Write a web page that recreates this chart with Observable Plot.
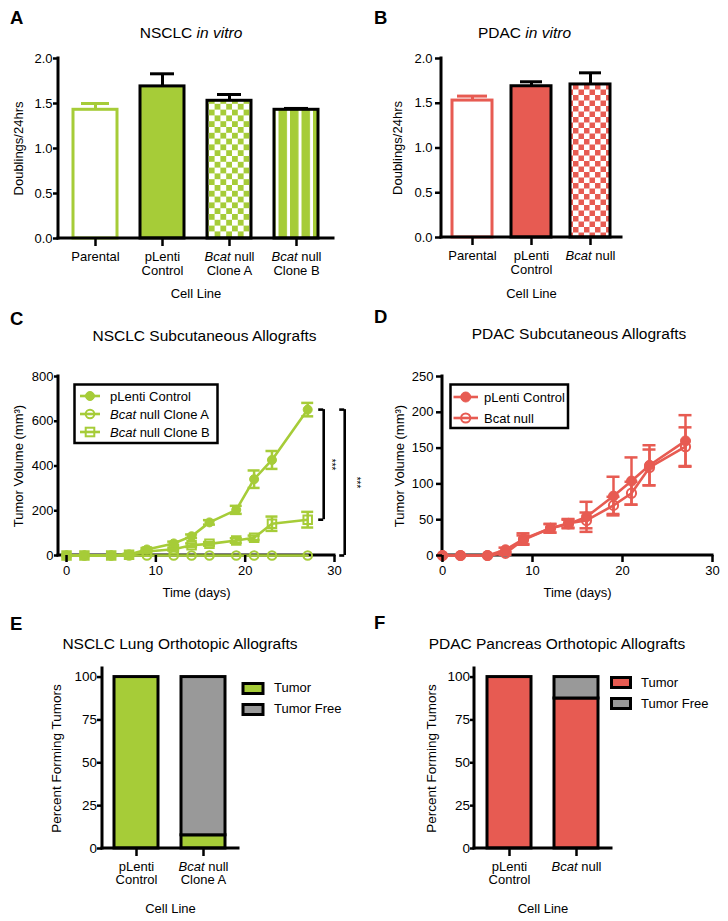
<!DOCTYPE html>
<html><head><meta charset="utf-8">
<script src="https://cdn.jsdelivr.net/npm/d3@7"></script>
<script src="https://cdn.jsdelivr.net/npm/@observablehq/plot@0.6"></script>
<style>
body{margin:0;background:#fff;}
#fig{position:relative;width:728px;height:921px;background:#fff;overflow:hidden;font-family:"Liberation Sans",Arial,Helvetica,sans-serif;}
</style></head><body><div id="fig"></div>
<script>
// ---------------- data ----------------
// A: NSCLC in vitro
const nsclcLines = ["Parental", "pLenti\nControl", "Bcat null\nClone A", "Bcat null\nClone B"];
const nsclcDoublings = [1.43, 1.69, 1.53, 1.43];
const nsclcDoublingsErr = [0.07, 0.14, 0.07, 0.015];
// B: PDAC in vitro
const pdacLines = ["Parental", "pLenti\nControl", "Bcat null"];
const pdacDoublings = [1.53, 1.69, 1.71];
const pdacDoublingsErr = [0.05, 0.05, 0.13];
// C / D: subcutaneous allografts
const days = [0, 2, 5, 7, 9, 12, 14, 16, 19, 21, 23, 27];
const nsclcSeries = ["pLenti Control", "Bcat null Clone A", "Bcat null Clone B"];
const nsclcControlVol = [0, 0, 0, 5, 27, 54, 86, 148, 204, 341, 427, 652];
const nsclcControlErr = [0, 0, 0, 3, 6, 8, 8, 10, 18, 39, 40, 30];
const nsclcCloneAVol = [0, 0, 0, 0, 0, 0, 0, 0, 0, 0, 0, 0];
const nsclcCloneAErr = [0, 0, 0, 0, 0, 0, 0, 0, 0, 0, 0, 0];
const nsclcCloneBVol = [0, 0, 0, 3, 18, 28, 46, 52, 67, 79, 142, 160];
const nsclcCloneBErr = [0, 0, 0, 2, 5, 6, 8, 8, 10, 10, 32, 35];
const pdacSeries = ["pLenti Control", "Bcat null"];
const pdacControlVol = [0, 0, 0, 8, 23, 38, 44, 54, 83, 104, 126, 160];
const pdacControlErr = [0, 0, 0, 3, 8, 6, 6, 21, 27, 33, 28, 36];
const pdacNullVol = [0, 0, 0, 3, 22, 38, 45, 49, 70, 87, 123, 152];
const pdacNullErr = [0, 0, 0, 2, 6, 6, 6, 11, 12, 16, 25, 27];
// E / F: orthotopic allografts
const tumorStatus = ["Tumor", "Tumor Free"];
const nsclcOrthoLines = ["pLenti\nControl", "Bcat null\nClone A"];
const nsclcTumorPct = [100, 7.7];
const nsclcTumorFreePct = [0, 92.3];
const pdacOrthoLines = ["pLenti\nControl", "Bcat null"];
const pdacTumorPct = [100, 87.5];
const pdacTumorFreePct = [0, 12.5];
// tick values
const doublingTicks = [0, 0.5, 1, 1.5, 2];
const nsclcVolTicks = [0, 200, 400, 600, 800];
const pdacVolTicks = [0, 50, 100, 150, 200, 250];
const dayTicks = [0, 10, 20, 30];
const pctTicks = [0, 25, 50, 75, 100];

// ---------------- styles ----------------
const GREEN = "#a6cc38", RED = "#e75b52", GRAY = "#999999";
const FONT = '"Liberation Sans", Arial, Helvetica, sans-serif';
const NS = "http://www.w3.org/2000/svg";
const fig = document.getElementById("fig");
const baseStyle = {background: "transparent", fontFamily: FONT, fontSize: "13px", color: "black", overflow: "visible"};

function place(svg, left, top) {
  svg.style.position = "absolute";
  svg.style.left = left + "px";
  svg.style.top = top + "px";
  svg.style.overflow = "visible";
  fig.appendChild(svg);
}
function addDefs(svg, markup) {
  const defs = document.createElementNS(NS, "defs");
  defs.innerHTML = markup;
  svg.insertBefore(defs, svg.firstChild);
}
function italicize(root, word) {
  const walker = document.createTreeWalker(root, NodeFilter.SHOW_TEXT);
  const nodes = [];
  while (walker.nextNode()) nodes.push(walker.currentNode);
  for (const n of nodes) {
    const p = n.parentNode;
    if (!p || p.tagName.toLowerCase() === "style") continue;
    const i = n.nodeValue.indexOf(word);
    if (i < 0) continue;
    const before = n.nodeValue.slice(0, i), after = n.nodeValue.slice(i + word.length);
    if (before) p.insertBefore(document.createTextNode(before), n);
    const t = document.createElementNS(NS, "tspan");
    t.setAttribute("font-style", "italic");
    t.textContent = word;
    p.insertBefore(t, n);
    n.nodeValue = after;
  }
}
// axis lines (left + bottom) drawn along the frame
function axisFrame(sw = 3) {
  return (index, scales, values, dims) => {
    const {width, height, marginTop, marginRight, marginBottom, marginLeft} = dims;
    const g = d3.create("svg:g").attr("stroke", "black").attr("stroke-width", sw).attr("stroke-linecap", "square");
    g.append("line").attr("x1", marginLeft).attr("x2", marginLeft).attr("y1", marginTop).attr("y2", height - marginBottom);
    g.append("line").attr("x1", marginLeft).attr("x2", width - marginRight).attr("y1", height - marginBottom).attr("y2", height - marginBottom);
    return g.node();
  };
}

// ---------------- A & B: doublings bar charts ----------------
function doublingPanel(lines, values, errs, color, fills, o) {
  const data = lines.map((line, i) => ({line, value: values[i], err: errs[i]}));
  const first = d => d.line === lines[0];
  const rest = d => d.line !== lines[0];
  const top = d => d.value + d.err;
  return Plot.plot({
    width: 364, height: o.height,
    marginLeft: o.ml, marginRight: o.mr, marginTop: o.mt, marginBottom: o.mb,
    style: baseStyle,
    x: {domain: lines, paddingInner: o.pi, paddingOuter: o.po},
    y: {domain: [0, 2]},
    color: {domain: lines, range: fills},
    marks: [
      Plot.ruleX(data, {filter: first, x: "line", y1: "value", y2: top, stroke: color, strokeWidth: 3}),
      Plot.ruleX(data, {filter: rest, x: "line", y1: "value", y2: top, stroke: "black", strokeWidth: 3}),
      Plot.tickY(data, {filter: first, x: "line", y: top, stroke: color, strokeWidth: 3, insetLeft: o.cap0, insetRight: o.cap0}),
      Plot.tickY(data, {filter: rest, x: "line", y: top, stroke: "black", strokeWidth: 3, insetLeft: o.cap, insetRight: o.cap}),
      Plot.barY(data, {filter: first, x: "line", y: "value", fill: "line", stroke: color, strokeWidth: 3}),
      Plot.barY(data, {filter: rest, x: "line", y: "value", fill: "line", stroke: "black", strokeWidth: 3}),
      Plot.axisY({ticks: doublingTicks, tickFormat: d3.format(".1f"), tickSize: o.yts, tickPadding: o.ytp, strokeWidth: 2.5,
        label: "Doublings/24hrs", labelAnchor: "center", labelOffset: o.ylo, labelArrow: "none"}),
      Plot.axisX({tickSize: 8, tickPadding: 5, strokeWidth: 2.5, lineHeight: 1.05,
        label: "Cell Line", labelAnchor: "center", labelOffset: o.xlo}),
      axisFrame(3)
    ]
  });
}

const svgA = doublingPanel(nsclcLines, nsclcDoublings, nsclcDoublingsErr, GREEN,
  ["white", GREEN, "url(#checkGreen)", "url(#stripeGreen)"],
  {height: 262, ml: 58, mr: 31, mt: 18, mb: 64, pi: 0.35, po: 0.206, cap0: 8, cap: 10, yts: 5, ytp: 1, ylo: 45, xlo: 59});
addDefs(svgA, `
<pattern id="checkGreen" patternUnits="userSpaceOnUse" width="11.6" height="11.6">
 <rect width="11.6" height="11.6" fill="white"/>
 <rect width="5.8" height="5.8" fill="${GREEN}"/>
 <rect x="5.8" y="5.8" width="5.8" height="5.8" fill="${GREEN}"/>
</pattern>
<pattern id="stripeGreen" patternUnits="userSpaceOnUse" x="2.5" width="11.5" height="10">
 <rect width="11.5" height="10" fill="white"/>
 <rect width="8.5" height="10" fill="${GREEN}"/>
</pattern>`);
italicize(svgA, "Bcat");
place(svgA, 0, 40);

const svgB = doublingPanel(pdacLines, pdacDoublings, pdacDoublingsErr, RED,
  ["white", RED, "url(#checkRed)"],
  {height: 262, ml: 77, mr: 107, mt: 18, mb: 65, pi: 0.32, po: 0.17, cap0: 5, cap: 9, yts: 6, ytp: 3, ylo: 49, xlo: 60});
addDefs(svgB, `
<pattern id="checkRed" patternUnits="userSpaceOnUse" width="11" height="11">
 <rect width="11" height="11" fill="white"/>
 <rect width="5.5" height="5.5" fill="${RED}"/>
 <rect x="5.5" y="5.5" width="5.5" height="5.5" fill="${RED}"/>
</pattern>`);
italicize(svgB, "Bcat");
place(svgB, 364, 40);

// ---------------- C & D: growth curves ----------------
function growthPanel(series, vols, errs, color, symbols, o, extra = []) {
  const data = series.flatMap((s, k) => days.map((day, i) => ({series: s, day, value: vols[k][i], err: errs[k][i]})));
  const withErr = data.filter(d => d.err > 0);
  const hi = d => d.value + d.err, lo = d => d.value - d.err;
  const dots = series.map((s, k) => Plot.dot(data, {filter: d => d.series === s, x: "day", y: "value",
    symbol: symbols[k].symbol, r: symbols[k].r, fill: symbols[k].filled ? color : "none", stroke: color,
    strokeWidth: symbols[k].filled ? 1 : 2}));
  return Plot.plot({
    width: 364, height: 300,
    marginLeft: o.ml, marginRight: o.mr, marginTop: o.mt, marginBottom: o.mb,
    style: baseStyle,
    x: {domain: o.xdomain},
    y: {domain: o.ydomain},
    marks: [
      axisFrame(3),
      Plot.line(data, {x: "day", y: "value", z: "series", stroke: color, strokeWidth: 2.6}),
      Plot.ruleX(withErr, {x: "day", y1: lo, y2: hi, stroke: color, strokeWidth: 2.5}),
      Plot.ruleY(withErr, {x1: "day", x2: "day", y: hi, stroke: color, strokeWidth: 2.5, insetLeft: -o.cap, insetRight: -o.cap}),
      Plot.ruleY(withErr, {x1: "day", x2: "day", y: lo, stroke: color, strokeWidth: 2.5, insetLeft: -o.cap, insetRight: -o.cap}),
      ...dots,
      ...extra,
      Plot.axisY({ticks: o.yticks, tickSize: o.yts, tickPadding: o.ytp, strokeWidth: 2.5,
        label: "Tumor Volume (mm³)", labelAnchor: "center", labelOffset: o.ylo, labelArrow: "none"}),
      Plot.axisX({ticks: dayTicks, tickSize: 7, tickPadding: 3, strokeWidth: 2.5,
        label: "Time (days)", labelAnchor: "center", labelOffset: o.xlo, labelArrow: "none"})
    ]
  });
}

// significance brackets (C): from the last time point, offset in pixels
const lastI = days.length - 1;
const lastDay = days[lastI];
const brackets = [
  {top: nsclcControlVol[lastI], bottom: nsclcCloneBVol[lastI], off: 16, toff: 23},
  {top: nsclcControlVol[lastI], bottom: nsclcCloneAVol[lastI], off: 37, toff: 48}
];
const bracketMarks = brackets.flatMap(b => [
  Plot.ruleX([b], {x: () => lastDay, y1: "bottom", y2: "top", dx: b.off, stroke: "black", strokeWidth: 2.6}),
  Plot.ruleY([b], {x1: () => lastDay, x2: () => lastDay, y: "top", insetLeft: b.off - 5, insetRight: -b.off, stroke: "black", strokeWidth: 2.6}),
  Plot.ruleY([b], {x1: () => lastDay, x2: () => lastDay, y: "bottom", insetLeft: b.off - 5, insetRight: -b.off, stroke: "black", strokeWidth: 2.6}),
  Plot.text([b], {x: () => lastDay, y: d => (d.top + d.bottom) / 2, text: () => "***", rotate: 90, dx: b.toff, fontSize: 10})
]);

const svgC = growthPanel(nsclcSeries, [nsclcControlVol, nsclcCloneAVol, nsclcCloneBVol],
  [nsclcControlErr, nsclcCloneAErr, nsclcCloneBErr], GREEN,
  [{symbol: "circle", r: 4.5, filled: true}, {symbol: "circle", r: 4.3, filled: false}, {symbol: "square", r: 4.8, filled: false}],
  {ml: 58, mr: 30, mt: 74, mb: 47, xdomain: [-0.9, 30], ydomain: [0, 800], yticks: nsclcVolTicks, yts: 4, ytp: 1, ylo: 45, xlo: 41, cap: 6},
  bracketMarks);
place(svgC, 0, 302);

const svgD = growthPanel(pdacSeries, [pdacControlVol, pdacNullVol], [pdacControlErr, pdacNullErr], RED,
  [{symbol: "circle", r: 5, filled: true}, {symbol: "circle", r: 4.6, filled: false}],
  {ml: 78, mr: 16, mt: 74, mb: 47, xdomain: [0, 30], ydomain: [0, 250], yticks: pdacVolTicks, yts: 6, ytp: 3, ylo: 48, xlo: 41, cap: 6.5});
place(svgD, 364, 302);

// ---------------- E & F: orthotopic stacked bars ----------------
function orthoPanel(lines, tumor, free, color, o) {
  const data = tumorStatus.flatMap((s, k) => lines.map((line, i) => ({line, status: s, pct: [tumor, free][k][i]})));
  return Plot.plot({
    width: 364, height: 266,
    marginLeft: o.ml, marginRight: o.mr, marginTop: 13, marginBottom: 73,
    style: baseStyle,
    x: {domain: lines, paddingInner: o.pi, paddingOuter: o.po},
    y: {domain: [0, 105]},
    color: {domain: tumorStatus, range: [color, GRAY]},
    marks: [
      Plot.barY(data, {x: "line", y: "pct", fill: "status", stroke: "black", strokeWidth: 3}),
      Plot.axisY({ticks: pctTicks, tickSize: o.yts, tickPadding: 0.5, strokeWidth: 2.5, fontSize: 13.5,
        label: "Percent Forming Tumors", labelAnchor: "center", labelOffset: o.ylo, labelArrow: "none"}),
      Plot.axisX({tickSize: 8, tickPadding: 4.5, strokeWidth: 2.5, lineHeight: 1.05,
        label: "Cell Line", labelAnchor: "center", labelOffset: 64}),
      axisFrame(3)
    ]
  });
}
const svgE = orthoPanel(nsclcOrthoLines, nsclcTumorPct, nsclcTumorFreePct, GREEN,
  {ml: 102, mr: 126, pi: 0.34, po: 0.177, yts: 5, ylo: 51});
italicize(svgE, "Bcat");
place(svgE, 0, 655);
const svgF = orthoPanel(pdacOrthoLines, pdacTumorPct, pdacTumorFreePct, RED,
  {ml: 110, mr: 117, pi: 0.346, po: 0.19, yts: 4, ylo: 48});
italicize(svgF, "Bcat");
place(svgF, 364, 655);

// ---------------- overlay: panel letters, titles, legends ----------------
const ov = d3.select(fig).append("svg").attr("width", 728).attr("height", 921)
  .style("position", "absolute").style("left", "0px").style("top", "0px").style("pointer-events", "none")
  .attr("font-family", FONT);

[["A", 10, 24], ["B", 374, 24], ["C", 10, 325], ["D", 374, 323], ["E", 10, 630], ["F", 374, 629]]
  .forEach(([t, x, y]) => ov.append("text").attr("x", x).attr("y", y).attr("font-size", 18.5).attr("font-weight", "bold").text(t));

function title(x, y, parts) {
  const t = ov.append("text").attr("x", x).attr("y", y).attr("font-size", 15.5).attr("text-anchor", "middle");
  parts.forEach(([s, it]) => t.append("tspan").attr("font-style", it ? "italic" : null).text(s));
}
title(191, 38, [["NSCLC ", false], ["in vitro", true]]);
title(524.5, 38, [["PDAC ", false], ["in vitro", true]]);
title(204.5, 340.5, [["NSCLC Subcutaneous Allografts", false]]);
title(579, 339, [["PDAC Subcutaneous Allografts", false]]);
title(180, 648.5, [["NSCLC Lung Orthotopic Allografts", false]]);
title(557, 648.5, [["PDAC Pancreas Orthotopic Allografts", false]]);

// line-chart legends
function lineLegend(box, entries, color, lx1, lx2, mx, tx, y0, dy) {
  ov.append("rect").attr("x", box[0]).attr("y", box[1]).attr("width", box[2]).attr("height", box[3])
    .attr("fill", "white").attr("stroke", "black").attr("stroke-width", 2.5);
  entries.forEach((e, i) => {
    const y = y0 + i * dy;
    ov.append("line").attr("x1", lx1).attr("x2", lx2).attr("y1", y).attr("y2", y).attr("stroke", color).attr("stroke-width", 2.6);
    if (e.symbol === "square") {
      ov.append("rect").attr("x", mx - 4.3).attr("y", y - 4.3).attr("width", 8.6).attr("height", 8.6)
        .attr("fill", "none").attr("stroke", color).attr("stroke-width", 2);
    } else {
      ov.append("circle").attr("cx", mx).attr("cy", y).attr("r", e.r)
        .attr("fill", e.filled ? color : "none").attr("stroke", color).attr("stroke-width", e.filled ? 1 : 2);
    }
    const t = ov.append("text").attr("x", tx).attr("y", y + 4.7).attr("font-size", 13);
    e.parts.forEach(([s, it]) => t.append("tspan").attr("font-style", it ? "italic" : null).text(s));
  });
}
lineLegend([74.5, 384.5, 143, 58.5], [
  {symbol: "circle", r: 4.5, filled: true, parts: [["pLenti Control", false]]},
  {symbol: "circle", r: 4.3, filled: false, parts: [["Bcat", true], [" null Clone A", false]]},
  {symbol: "square", parts: [["Bcat", true], [" null Clone B", false]]}
], GREEN, 80, 100, 90, 110, 396, 18);
lineLegend([450.5, 384.5, 117.5, 43.5], [
  {symbol: "circle", r: 5, filled: true, parts: [[pdacSeries[0], false]]},
  {symbol: "circle", r: 4.6, filled: false, parts: [[pdacSeries[1], false]]}
], RED, 453.5, 478, 465.7, 484, 397, 21);

// stacked-bar legends
function swatchLegend(x, ys, w, colors, tx, baselines) {
  tumorStatus.forEach((s, i) => {
    ov.append("rect").attr("x", x).attr("y", ys[i]).attr("width", w).attr("height", 10)
      .attr("fill", colors[i]).attr("stroke", "black").attr("stroke-width", 3);
    ov.append("text").attr("x", tx).attr("y", baselines[i]).attr("font-size", 13).text(s);
  });
}
swatchLegend(243, [683.5, 704.5], 20, [GREEN, GRAY], 274, [691.7, 712.7]);
swatchLegend(611.5, [677.5, 698.5], 19, [RED, GRAY], 641, [686.7, 708.3]);
</script></body></html>
